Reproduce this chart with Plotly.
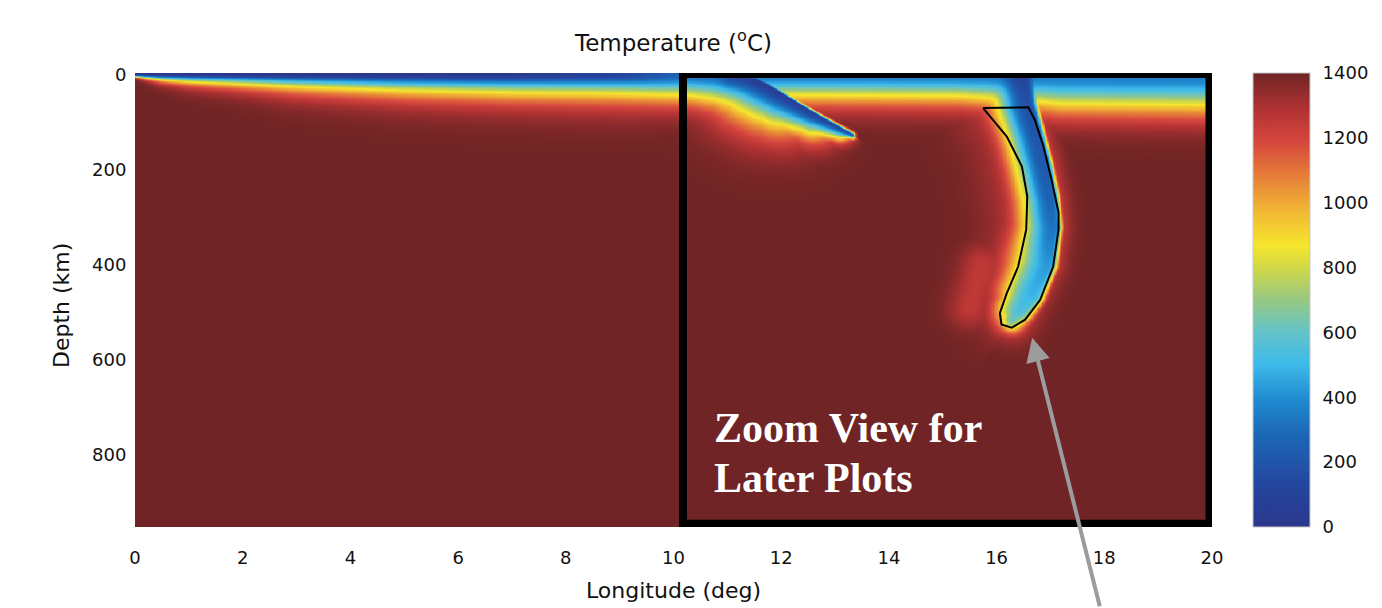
import numpy as np
import plotly.graph_objects as go

# ---------------- data ----------------
KM_PER_DEG = 111.0
T_MANTLE = 1400

# left (subducting) plate: surface line bending into slab 1
lp_lon = [0, 0.5, 1, 2, 3, 5, 7, 9, 10.3, 10.75, 11.15, 11.5, 11.75, 11.98, 12.6, 13.09, 13.31]
lp_dep = [0, 0, 0, 0, 0, 0, 0, 0, 0, 0.5, 3, 9, 22, 38.5, 81, 112, 126]
lp_tc = [0, 0, 0, 0, 0, 0, 20, 100, 300, 280, 200, 80, 60, 60, 80, 130, 200]
lp_wa = [3, 10, 14, 19, 25, 33, 38, 42, 51, 58, 66, 74, 74, 68, 44, 22, 8]
lp_qa = [1.15, 1.15, 1.15, 1.15, 1.15, 1.2, 1.25, 1.3, 1.6, 1.6, 1.55,
         1.5, 1.5, 1.5, 1.5, 1.5, 1.5]
lp_wb = [6] * 17
lp_qb = [2] * 17

# overriding surface layer
ov_lon = [11.1, 12, 14, 15.3, 16.4, 17.2, 20]
ov_dep = [0, 0, 0, 0, 0, 0, 0]
ov_tc = [330, 330, 330, 330, 340, 350, 350]
ov_wa = [50, 51, 52, 53, 62, 72, 75]
ov_qa = [1.65, 1.7, 1.7, 1.7, 1.85, 2.0, 2.0]

# slab 2 cold core line
s2_lon = [16.45, 16.55, 16.70, 16.86, 16.98, 17.03, 16.93, 16.62, 16.40, 16.28]
s2_dep = [0, 60, 120, 190, 260, 320, 400, 460, 495, 515]
s2_tc = [150, 180, 200, 220, 260, 320, 430, 490, 550, 620]
s2_wa = [65, 66, 62, 62, 62, 65, 75, 62, 48, 28]
s2_qa = [2] * 10
s2_wb = [30, 22, 20, 20, 20, 20, 22, 32, 32, 28]
s2_qb = [3, 4, 4, 4, 4, 4, 4, 4, 3, 2]

# broad warm halo around slab 2
h2_tc = [1180] * 10
h2_wa = [120, 120, 110, 110, 110, 110, 110, 100, 70, 45]
h2_wb = [35, 35, 35, 35, 35, 35, 35, 40, 45, 45]
h2_q = [2] * 10

# warm remnant left of slab 2
gb_lon = [15.5, 15.72]
gb_dep = [490, 400]
gb_tc = [1250, 1250]
gb_w = [45, 45]
gb_q = [2, 2]

# slab 2 outline
ol_lon = [15.75, 16.19, 16.47, 16.57, 16.55, 16.40, 16.19, 16.06, 16.09, 16.28,
          16.53, 16.81, 17.05, 17.15, 17.15, 17.02, 16.87, 16.71, 16.59, 15.75]
ol_dep = [70, 130, 193, 256, 326, 404, 460, 502, 526, 533,
          516, 474, 404, 326, 290, 221, 151, 95, 68, 70]

x_ticks = [0, 2, 4, 6, 8, 10, 12, 14, 16, 18, 20]
y_ticks = [0, 200, 400, 600, 800]
cb_ticks = [0, 200, 400, 600, 800, 1000, 1200, 1400]

# ---------------- grid ----------------
lon = np.linspace(0, 20, 801)
dep = np.linspace(-4, 955, 384)
X, Z = np.meshgrid(lon * KM_PER_DEG, np.maximum(dep, 0))


def coldness(nx, nz, tc, wa, qa, wb, qb):
    """Cooling contributed by a cold line; side taken from the nearest segment."""
    nx = np.asarray(nx, float) * KM_PER_DEG
    nz = np.asarray(nz, float)
    tc, wa, qa, wb, qb = (np.asarray(a, float) for a in (tc, wa, qa, wb, qb))
    segs = []
    best_d = np.full(X.shape, np.inf)
    best_c = np.zeros(X.shape)
    for i in range(len(nx) - 1):
        ax, az = nx[i], nz[i]
        dx, dz = nx[i + 1] - ax, nz[i + 1] - az
        L2 = dx * dx + dz * dz
        t = np.clip(((X - ax) * dx + (Z - az) * dz) / L2, 0, 1)
        d = np.hypot(X - (ax + t * dx), Z - (az + t * dz))
        cr = dx * (Z - az) - dz * (X - ax)
        m = d < best_d
        best_d = np.where(m, d, best_d)
        best_c = np.where(m, cr, best_c)
        segs.append((t, d))
    side_a = best_c >= 0
    out = np.zeros(X.shape)
    for i, (t, d) in enumerate(segs):
        def P(a):
            return a[i] + t * (a[i + 1] - a[i])
        w = np.where(side_a, P(wa), P(wb))
        q = np.where(side_a, P(qa), P(qb))
        out = np.maximum(out, (T_MANTLE - P(tc)) * np.exp(-(d / w) ** q))
    return out


C = [
    coldness(lp_lon, lp_dep, lp_tc, lp_wa, lp_qa, lp_wb, lp_qb),
    coldness(ov_lon, ov_dep, ov_tc, ov_wa, ov_qa, ov_wa, ov_qa),
    coldness(s2_lon, s2_dep, s2_tc, s2_wa, s2_qa, s2_wb, s2_qb),
    coldness(s2_lon, s2_dep, h2_tc, h2_wa, h2_q, h2_wb, h2_q),
    coldness(gb_lon, gb_dep, gb_tc, gb_w, gb_q, gb_w, gb_q),
]
p = 6
Ctot = sum(c ** p for c in C) ** (1.0 / p)
T = np.clip(T_MANTLE - Ctot, 0, T_MANTLE)
T = np.round(T).astype(int)

colorscale = [
    [0.0, "rgb(44,54,140)"],
    [0.1, "rgb(36,72,160)"],
    [0.2, "rgb(28,102,182)"],
    [0.28, "rgb(32,138,208)"],
    [0.36, "rgb(62,186,234)"],
    [0.43, "rgb(100,195,200)"],
    [0.5, "rgb(150,200,130)"],
    [0.57, "rgb(208,216,72)"],
    [0.62, "rgb(246,230,45)"],
    [0.7, "rgb(240,180,52)"],
    [0.77, "rgb(230,128,56)"],
    [0.85, "rgb(214,70,62)"],
    [0.92, "rgb(176,50,50)"],
    [1.0, "rgb(112,36,37)"],
]

FONT = "DejaVu Sans"
TXT = "#111111"

fig = go.Figure()
fig.add_trace(go.Heatmap(
    x=lon, y=dep, z=T, zmin=0, zmax=1400, zsmooth="best",
    colorscale=colorscale, hoverinfo="skip",
    colorbar=dict(
        x=1.038, xanchor="left", y=0.5, yanchor="middle", len=1.0,
        xpad=0, ypad=0,
        thickness=57, tickvals=cb_ticks, ticks="outside", ticklen=9,
        tickcolor="rgba(0,0,0,0)", outlinewidth=1, outlinecolor="#c8c8c8",
        tickfont=dict(family=FONT, size=18, color=TXT),
    ),
))

fig.add_trace(go.Scatter(
    x=ol_lon, y=ol_dep, mode="lines",
    line=dict(color="black", width=2), hoverinfo="skip", showlegend=False,
))

fig.add_shape(type="rect", xref="x", yref="y", x0=10.176, x1=19.954,
              y0=-2, y1=946, line=dict(color="black", width=8))

for txt, yy in (("Zoom View for", 744), ("Later Plots", 849)):
    fig.add_annotation(
        x=10.71, y=yy, xref="x", yref="y", xanchor="left", yanchor="middle",
        align="left", showarrow=False, text="<b>" + txt + "</b>",
        font=dict(family="Liberation Serif", size=42, color="white"),
    )

fig.add_annotation(
    x=16.66, y=554, xref="x", yref="y", ax=68, ay=270, text="",
    showarrow=True, arrowhead=2, arrowsize=1.2, arrowwidth=4,
    arrowcolor="#9c9c9c", standoff=0,
)

fig.add_annotation(
    x=0.5, y=-0.1388, xref="paper", yref="paper", showarrow=False,
    text="Longitude (deg)", yanchor="middle",
    font=dict(family=FONT, size=22, color=TXT),
)
fig.add_annotation(
    x=-0.0678, y=0.489, xref="paper", yref="paper", showarrow=False,
    text="Depth (km)", textangle=-90, xanchor="center", yanchor="middle",
    font=dict(family=FONT, size=22, color=TXT),
)

fig.update_layout(
    width=1374, height=600,
    margin=dict(l=127, r=170, t=65, b=81, autoexpand=False),
    paper_bgcolor="white", plot_bgcolor="white",
    title=dict(text="Temperature (<sup>o</sup>C)", x=0.5, xref="paper",
               xanchor="center", y=1 - 35 / 600, yref="container",
               yanchor="middle",
               font=dict(family=FONT, size=23, color=TXT)),
    showlegend=False,
    xaxis=dict(range=[0, 20], tickvals=x_ticks, showgrid=False, zeroline=False,
               showline=False, ticks="outside", ticklen=14,
               tickcolor="rgba(0,0,0,0)",
               tickfont=dict(family=FONT, size=18, color=TXT)),
    yaxis=dict(range=[953, -4], tickvals=y_ticks, showgrid=False, zeroline=False,
               showline=False, ticks="outside", ticklen=4,
               tickcolor="rgba(0,0,0,0)",
               tickfont=dict(family=FONT, size=18, color=TXT)),
)

fig.write_html("out.html")
